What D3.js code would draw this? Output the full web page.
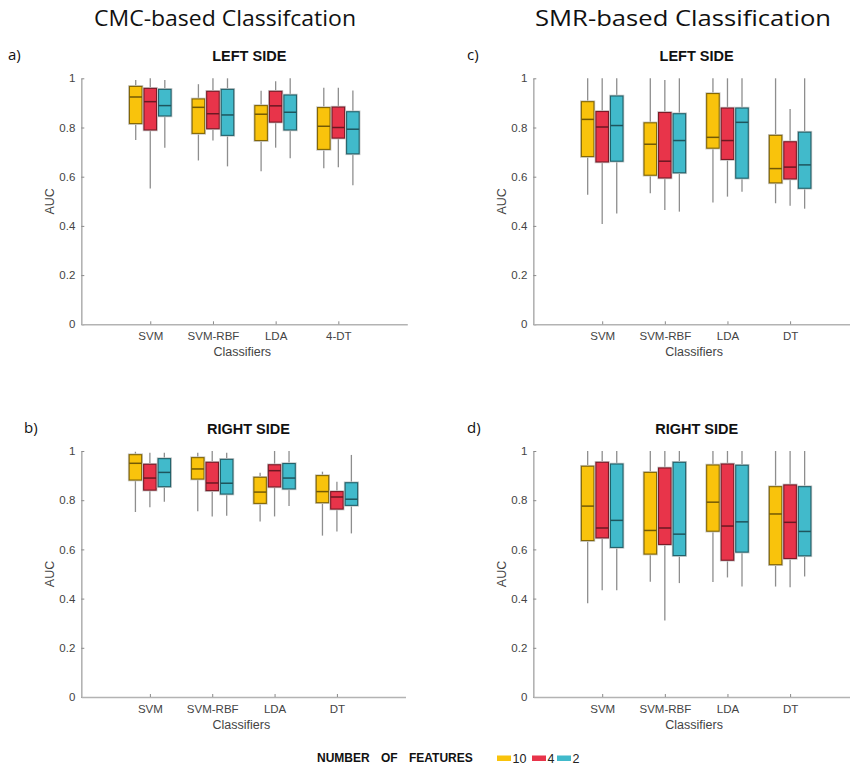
<!DOCTYPE html>
<html>
<head>
<meta charset="utf-8">
<script src="https://cdn.jsdelivr.net/npm/d3@7"></script>
<style>
  html, body { margin: 0; padding: 0; background: #fff; }
  svg { display: block; }
</style>
</head>
<body>
<svg id="chart" width="850" height="766"></svg>
<script>
// ---------------- DATA ----------------
// Each entry: [whiskerLow, q1, median, q3, whiskerHigh]
const categoriesCMCLeft = ["SVM", "SVM-RBF", "LDA", "4-DT"];
const categoriesOther = ["SVM", "SVM-RBF", "LDA", "DT"];
const featureSets = ["10", "4", "2"];
const featureColors = ["#F9C30C", "#E8344A", "#41BACB"];
const yTicks = [0, 0.2, 0.4, 0.6, 0.8, 1];

// a) CMC-based, LEFT SIDE
const cmcLeft10 = [[0.749,0.816,0.924,0.967,0.993],[0.666,0.776,0.882,0.916,0.976],[0.622,0.747,0.854,0.889,0.949],[0.634,0.711,0.805,0.881,0.962]];
const cmcLeft4  = [[0.552,0.790,0.905,0.959,1.000],[0.747,0.795,0.856,0.947,1.000],[0.718,0.822,0.888,0.947,0.988],[0.638,0.757,0.800,0.883,0.962]];
const cmcLeft2  = [[0.718,0.847,0.889,0.955,0.993],[0.642,0.768,0.851,0.955,1.000],[0.675,0.790,0.862,0.932,1.000],[0.565,0.693,0.793,0.864,0.950]];
// b) CMC-based, RIGHT SIDE
const cmcRight10 = [[0.752,0.882,0.950,0.985,0.997],[0.755,0.886,0.927,0.973,0.993],[0.713,0.787,0.833,0.893,0.912],[0.656,0.790,0.835,0.900,0.916]];
const cmcRight4  = [[0.771,0.841,0.890,0.946,0.993],[0.734,0.839,0.870,0.954,1.000],[0.734,0.854,0.920,0.944,1.000],[0.673,0.764,0.813,0.835,0.875]];
const cmcRight2  = [[0.794,0.855,0.913,0.969,0.993],[0.737,0.825,0.869,0.966,0.993],[0.776,0.846,0.890,0.949,1.000],[0.665,0.779,0.804,0.871,0.984]];
// c) SMR-based, LEFT SIDE
const smrLeft10 = [[0.527,0.682,0.833,0.905,1.000],[0.533,0.606,0.732,0.819,1.000],[0.495,0.716,0.760,0.938,1.000],[0.492,0.575,0.633,0.768,1.000]];
const smrLeft4  = [[0.408,0.660,0.802,0.865,1.000],[0.465,0.595,0.663,0.861,0.993],[0.519,0.670,0.747,0.879,1.000],[0.482,0.591,0.639,0.742,0.875]];
const smrLeft2  = [[0.450,0.663,0.808,0.928,1.000],[0.458,0.616,0.747,0.856,1.000],[0.539,0.594,0.821,0.879,1.000],[0.470,0.553,0.648,0.781,1.000]];
// d) SMR-based, RIGHT SIDE
const smrRight10 = [[0.381,0.636,0.776,0.938,1.000],[0.469,0.581,0.677,0.913,1.000],[0.467,0.674,0.792,0.943,1.000],[0.449,0.538,0.744,0.855,1.000]];
const smrRight4  = [[0.434,0.647,0.687,0.954,1.000],[0.311,0.620,0.687,0.931,1.000],[0.486,0.556,0.695,0.947,1.000],[0.446,0.563,0.710,0.862,1.000]];
const smrRight2  = [[0.434,0.608,0.718,0.947,1.000],[0.463,0.575,0.662,0.954,1.000],[0.449,0.589,0.712,0.942,1.000],[0.490,0.574,0.673,0.855,1.000]];

const panels = [
  { tag: "a)", title: "LEFT SIDE",  cats: categoriesCMCLeft, series: [cmcLeft10, cmcLeft4, cmcLeft2],   x0: 81.3,  x1: 407.3, yTop: 78.3, yBot: 324.3, tagX: 8,   tagY: 60 },
  { tag: "b)", title: "RIGHT SIDE", cats: categoriesOther,   series: [cmcRight10, cmcRight4, cmcRight2], x0: 81.3,  x1: 405.5, yTop: 451,  yBot: 697,   tagX: 24,  tagY: 433 },
  { tag: "c)", title: "LEFT SIDE",  cats: categoriesOther,   series: [smrLeft10, smrLeft4, smrLeft2],    x0: 533.3, x1: 859,   yTop: 78.3, yBot: 324.3, tagX: 467, tagY: 60 },
  { tag: "d)", title: "RIGHT SIDE", cats: categoriesOther,   series: [smrRight10, smrRight4, smrRight2], x0: 533.3, x1: 859,   yTop: 451,  yBot: 697,   tagX: 467, tagY: 433 }
];

// ---------------- DRAW ----------------
const svg = d3.select("#chart");
svg.append("rect").attr("width", 850).attr("height", 766).attr("fill", "#fff");

const sansFont = "'Liberation Sans', Arial, sans-serif";
const titleFont = "'Open Sans', 'Noto Sans', sans-serif";

// Main titles
svg.append("text").attr("x", 225).attr("y", 26).attr("text-anchor", "middle")
  .attr("font-family", titleFont).attr("font-size", 22).attr("fill", "#111")
  .attr("textLength", 262).attr("lengthAdjust", "spacingAndGlyphs")
  .text("CMC-based Classifcation");
svg.append("text").attr("x", 683).attr("y", 26).attr("text-anchor", "middle")
  .attr("font-family", titleFont).attr("font-size", 22).attr("fill", "#111")
  .attr("textLength", 296).attr("lengthAdjust", "spacingAndGlyphs")
  .text("SMR-based Classification");

const boxW = 0.2;      // box width in category units
const groupOff = 0.232; // offset between feature-set boxes

panels.forEach(p => {
  const g = svg.append("g");
  const x = d3.scaleLinear().domain([-0.1, 5.1]).range([p.x0, p.x1]);
  const y = d3.scaleLinear().domain([0, 1]).range([p.yBot, p.yTop]);

  // tag
  g.append("text").attr("x", p.tagX).attr("y", p.tagY)
    .attr("font-family", titleFont).attr("font-size", 15).attr("fill", "#111")
    .text(p.tag);
  // subtitle
  g.append("text").attr("x", (p.x0 + Math.min(p.x1, 850)) / 2 + 5).attr("y", p.yTop - 17)
    .attr("text-anchor", "middle").attr("font-family", sansFont).attr("font-weight", "bold")
    .attr("font-size", 14.5).attr("fill", "#111").text(p.title);

  // axes
  const yAxis = d3.axisLeft(y).tickValues(yTicks).tickFormat(d => String(d))
    .tickSizeInner(-3).tickSizeOuter(0).tickPadding(6);
  const xAxis = d3.axisBottom(x).tickValues([1, 2, 3, 4]).tickFormat((d, i) => p.cats[i])
    .tickSizeInner(-3).tickSizeOuter(0).tickPadding(8);

  const ya = g.append("g").attr("transform", `translate(${p.x0},0)`).call(yAxis);
  const xa = g.append("g").attr("transform", `translate(0,${p.yBot})`).call(xAxis);
  [ya, xa].forEach(a => {
    a.select(".domain").attr("stroke", "#b3b3b3").attr("stroke-width", 1.6);
    a.selectAll(".tick line").attr("stroke", "#8a8a8a").attr("stroke-width", 1);
    a.selectAll(".tick text").attr("fill", "#444").attr("font-size", 11.5).attr("font-family", sansFont);
  });

  // axis titles
  g.append("text").attr("x", (p.x0 + p.x1) / 2 - 2).attr("y", p.yBot + 32)
    .attr("text-anchor", "middle").attr("font-family", sansFont).attr("font-size", 12.5)
    .attr("fill", "#444").text("Classifiers");
  g.append("text").attr("transform", `translate(${p.x0 - 27},${(p.yTop + p.yBot) / 2}) rotate(-90)`)
    .attr("text-anchor", "middle").attr("font-family", sansFont).attr("font-size", 12.5)
    .attr("fill", "#444").text("AUC");

  // boxes
  p.series.forEach((ser, j) => {
    const color = featureColors[j];
    const off = (j - 1) * groupOff;
    ser.forEach((v, i) => {
      const [lo, q1, med, q3, hi] = v;
      const cx = x(i + 1 + off);
      const bx0 = x(i + 1 + off - boxW / 2), bx1 = x(i + 1 + off + boxW / 2);
      // whiskers
      g.append("line").attr("x1", cx).attr("x2", cx).attr("y1", y(hi)).attr("y2", y(q3))
        .attr("stroke", "#7a7a7a").attr("stroke-width", 1.3).attr("stroke-opacity", 0.85);
      g.append("line").attr("x1", cx).attr("x2", cx).attr("y1", y(q1)).attr("y2", y(lo))
        .attr("stroke", "#7a7a7a").attr("stroke-width", 1.3).attr("stroke-opacity", 0.85);
      // halo
      g.append("rect").attr("x", bx0).attr("y", y(q3)).attr("width", bx1 - bx0).attr("height", y(q1) - y(q3))
        .attr("fill", "none").attr("stroke", "#c8c8c8").attr("stroke-width", 2.6);
      // box
      g.append("rect").attr("x", bx0).attr("y", y(q3)).attr("width", bx1 - bx0).attr("height", y(q1) - y(q3))
        .attr("fill", color).attr("stroke", d3.color(color).darker(1.8)).attr("stroke-width", 1.1);
      // median
      g.append("line").attr("x1", bx0).attr("x2", bx1).attr("y1", y(med)).attr("y2", y(med))
        .attr("stroke", d3.color(color).darker(2.2)).attr("stroke-width", 1.5);
    });
  });
});

// ---------------- LEGEND ----------------
const lg = svg.append("g");
lg.append("text").attr("x", 317).attr("y", 762)
  .attr("font-family", sansFont).attr("font-weight", "bold").attr("font-size", 12)
  .attr("word-spacing", 8).attr("fill", "#111").text("NUMBER OF FEATURES");
const legendX = [497, 532, 557];
featureSets.forEach((f, j) => {
  lg.append("rect").attr("x", legendX[j]).attr("y", 755.5).attr("width", 14).attr("height", 5.5)
    .attr("fill", featureColors[j]);
  lg.append("text").attr("x", legendX[j] + 15.5).attr("y", 762.5)
    .attr("font-family", sansFont).attr("font-size", 12.5).attr("fill", "#222").text(f);
});
</script>
</body>
</html>
